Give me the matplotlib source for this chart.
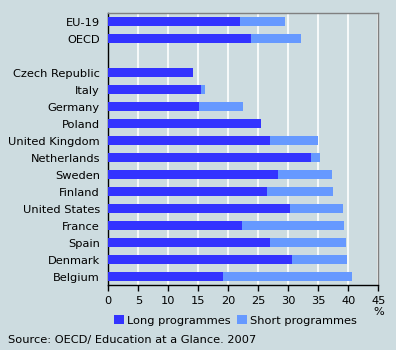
import matplotlib
matplotlib.use("Agg")
import matplotlib.pyplot as plt
import numpy as np

countries = ["EU-19", "OECD", "", "Czech Republic", "Italy", "Germany", "Poland",
             "United Kingdom", "Netherlands", "Sweden", "Finland", "United States",
             "France", "Spain", "Denmark", "Belgium"]
long_prog = [22.0, 23.8, 0, 14.1, 15.4, 15.1, 25.4, 27.0, 33.8, 28.3, 26.4, 30.3, 22.3, 27.0, 30.6, 19.1]
total = [29.4, 32.1, 0, 14.1, 16.1, 22.4, 25.4, 34.9, 35.3, 37.3, 37.4, 39.1, 39.3, 39.6, 39.8, 40.6]
short_prog = [t - l for t, l in zip(total, long_prog)]
xticks = [0, 5, 10, 15, 20, 25, 30, 35, 40, 45]

bg = "#cddce0"
c_long = "#3333ff"
c_short = "#6699ff"

plt.rcParams["font.family"] = "DejaVu Sans"
plt.rcParams["font.size"] = 8.2

fig = plt.figure(figsize=(3.96, 3.5), dpi=100, facecolor=bg)
ax = fig.add_axes([0.2735, 0.1857, 0.6818, 0.7763], facecolor=bg)

y = np.arange(len(countries))
ax.barh(y, long_prog, height=0.53, color=c_long, label="Long programmes", zorder=3)
ax.barh(y, short_prog, left=long_prog, height=0.53, color=c_short, label="Short programmes", zorder=3)

ax.set_ylim(len(countries) - 0.5, -0.5)
ax.set_yticks(y)
ax.set_yticklabels(countries)
ax.tick_params(axis="y", length=0, pad=6)
ax.set_xlim(0, 45)
ax.set_xticks(xticks)
ax.tick_params(axis="x", length=4, width=1, direction="out", pad=4)
ax.xaxis.grid(True, color="white", linewidth=1.2, zorder=0)
ax.set_axisbelow(True)

ax.spines["left"].set_color("black")
ax.spines["bottom"].set_color("black")
ax.spines["top"].set_color("#808080")
ax.spines["right"].set_color("#808080")
for s in ax.spines.values():
    s.set_linewidth(1)

# % under the 45 tick
ax.text(45, -0.08, "%", transform=ax.get_xaxis_transform(), ha="center", va="top")

fig.legend(loc="lower center", bbox_to_anchor=(0.595, 0.04), ncol=2, frameon=False,
           handlelength=0.8, handleheight=0.8, handletextpad=0.3, columnspacing=0.6)
fig.text(0.02, 0.03, "Source: OECD/ Education at a Glance. 2007", ha="left", va="center")

fig.savefig("out.png", dpi=100, facecolor=bg)
